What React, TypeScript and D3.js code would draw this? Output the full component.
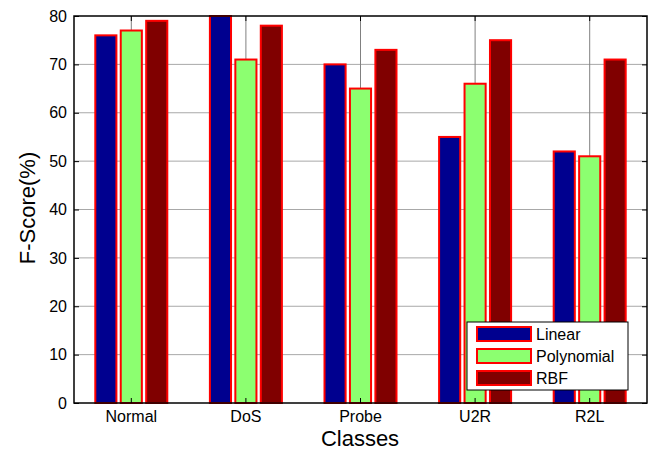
import { useRef, useEffect } from 'react';
import * as d3 from 'd3';

const classes = ['Normal', 'DoS', 'Probe', 'U2R', 'R2L'];
const kernels = ['Linear', 'Polynomial', 'RBF'];
const linear = [76, 80, 70, 55, 52];
const polynomial = [77, 71, 65, 66, 51];
const rbf = [79, 78, 73, 75, 71];
const yTicks = [0, 10, 20, 30, 40, 50, 60, 70, 80];

const colors = ['#00008f', '#8cff70', '#800000'];

const FScoreChart = () => {
  const svgRef = useRef<SVGSVGElement>(null);

  useEffect(() => {
    const W = 654, H = 451;
    const left = 74, right = 647, top = 16, bottom = 403;
    const series = [linear, polynomial, rbf];

    const svg = d3.select(svgRef.current)
      .attr('width', W)
      .attr('height', H);
    svg.selectAll('*').remove();

    const x = d3.scaleBand()
      .domain(classes)
      .range([left, right]);

    const x1 = d3.scaleBand()
      .domain(kernels)
      .range([0, 72])
      .paddingInner(0.17);

    const y = d3.scaleLinear()
      .domain([0, 80])
      .range([bottom, top]);

    const font = 'Arial, "Liberation Sans", Helvetica, sans-serif';

    // grid
    svg.append('g')
      .selectAll('line')
      .data(yTicks.slice(1, -1))
      .join('line')
      .attr('x1', left).attr('x2', right)
      .attr('y1', d => y(d)).attr('y2', d => y(d))
      .attr('stroke', '#a8a8a8')
      .attr('stroke-width', 1);

    svg.append('g')
      .selectAll('line')
      .data(classes)
      .join('line')
      .attr('x1', d => (x(d) as number) + x.bandwidth() / 2)
      .attr('x2', d => (x(d) as number) + x.bandwidth() / 2)
      .attr('y1', top).attr('y2', bottom)
      .attr('stroke', '#808080')
      .attr('stroke-width', 1);

    // bars
    kernels.forEach((k, i) => {
      svg.append('g')
        .selectAll('rect')
        .data(series[i])
        .join('rect')
        .attr('x', (_, j) => (x(classes[j]) as number) + x.bandwidth() / 2 - 36 + (x1(k) as number))
        .attr('width', x1.bandwidth())
        .attr('y', d => y(d))
        .attr('height', d => bottom - y(d))
        .attr('fill', colors[i])
        .attr('stroke', '#ff0000')
        .attr('stroke-width', 2);
    });

    // axes box
    svg.append('rect')
      .attr('x', left).attr('y', top)
      .attr('width', right - left).attr('height', bottom - top)
      .attr('fill', 'none')
      .attr('stroke', '#000')
      .attr('stroke-width', 1.5);

    const yAxis = svg.append('g')
      .attr('transform', `translate(${left},0)`)
      .call(d3.axisLeft(y).tickValues(yTicks).tickSizeInner(-5).tickSizeOuter(0).tickPadding(7));
    yAxis.select('.domain').remove();
    yAxis.selectAll('text').attr('font-size', 16).attr('font-family', font).attr('fill', '#000');

    const yAxisR = svg.append('g')
      .attr('transform', `translate(${right},0)`)
      .call(d3.axisRight(y).tickValues(yTicks).tickSizeInner(-5).tickSizeOuter(0).tickFormat(() => ''));
    yAxisR.select('.domain').remove();

    const xAxis = svg.append('g')
      .attr('transform', `translate(0,${bottom})`)
      .call(d3.axisBottom(x).tickSizeInner(-5).tickSizeOuter(0).tickPadding(8));
    xAxis.select('.domain').remove();
    xAxis.selectAll('text').attr('font-size', 16).attr('font-family', font).attr('fill', '#000');

    const xAxisT = svg.append('g')
      .attr('transform', `translate(0,${top})`)
      .call(d3.axisTop(x).tickSizeInner(-5).tickSizeOuter(0).tickFormat(() => ''));
    xAxisT.select('.domain').remove();

    // axis titles
    svg.append('text')
      .attr('x', 360).attr('y', 446)
      .attr('text-anchor', 'middle')
      .attr('font-size', 22)
      .attr('font-family', font)
      .text('Classes');

    svg.append('text')
      .attr('transform', 'translate(35,208) rotate(-90)')
      .attr('text-anchor', 'middle')
      .attr('font-size', 22)
      .attr('font-family', font)
      .text('F-Score(%)');

    // legend
    const lg = svg.append('g').attr('transform', 'translate(467,322)');
    lg.append('rect')
      .attr('width', 161).attr('height', 68)
      .attr('fill', '#fff')
      .attr('stroke', '#000')
      .attr('stroke-width', 1);
    kernels.forEach((k, i) => {
      const cy = 12 + i * 22;
      lg.append('rect')
        .attr('x', 10).attr('y', cy - 7)
        .attr('width', 54).attr('height', 14)
        .attr('fill', colors[i])
        .attr('stroke', '#ff0000')
        .attr('stroke-width', 2);
      lg.append('text')
        .attr('x', 69).attr('y', cy + 6)
        .attr('font-size', 16)
        .attr('font-family', font)
        .text(k);
    });
  }, []);

  return <svg ref={svgRef} style={{ position: 'absolute', left: 0, top: 0 }}></svg>;
};

export default function App() {
  return <FScoreChart />;
}
